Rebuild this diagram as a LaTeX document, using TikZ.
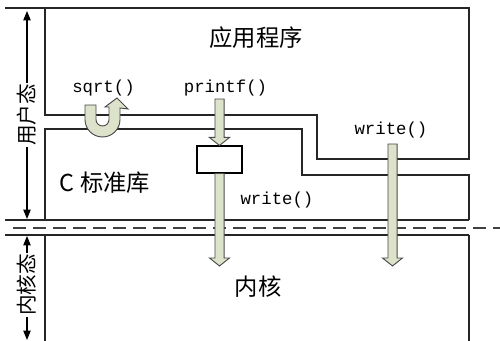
\documentclass[tikz,border=0pt]{standalone}
\usepackage{fontspec}
\newfontfamily\cjk{Noto Sans CJK SC}
\setmonofont{Liberation Mono}
\usetikzlibrary{arrows.meta, positioning, calc}

\definecolor{arrowfill}{HTML}{DDE2CB}
\definecolor{arrowedge}{HTML}{4A4A4A}

% 粗箭头（竖直向下）
\newcommand{\fatdown}[2]{%
  \draw[fat] let \p1=(#1), \p2=(#2) in
    (\x1-3.4pt,\y1) -- (\x1-3.4pt,\y2+6pt) -- (\x1-7.5pt,\y2+6pt) -- (\x1,\y2)
    -- (\x1+7.5pt,\y2+6pt) -- (\x1+3.4pt,\y2+6pt) -- (\x1+3.4pt,\y1) -- cycle;}

\begin{document}
\begin{tikzpicture}[
    x=0.75pt, y=0.75pt,
    layer/.style={line width=0.8pt, draw=black!85},
    zh/.style={font=\cjk\fontsize{17.5}{20}\selectfont},
    side/.style={font=\cjk\fontsize{15.5}{18}\selectfont, fill=white, inner sep=1pt, rotate=90},
    fn/.style={font=\ttfamily\fontsize{13}{15}\selectfont},
    fat/.style={fill=arrowfill, draw=arrowedge, line width=0.7pt},
    span/.style={line width=0.8pt, {Triangle[length=7pt,width=5.5pt]}-{Triangle[length=7pt,width=5.5pt]}}
]
    \useasboundingbox (0,0) rectangle (500,341);

    % 分层边框
    \draw[layer] (5,333) -- (469,333) -- (469,182) -- (317,182) -- (317,226) -- (45,226) -- (45,333);
    \draw[layer] (45,121) -- (45,212) -- (302,212) -- (302,166) -- (469,166) -- (469,121);
    \draw[layer] (5,121) -- (469,121);
    \draw[layer] (5,106) -- (469,106);
    \draw[layer] (45,106) -- (45,0);
    \draw[layer] (469,106) -- (469,0);
    \draw[line width=1.1pt, draw=black!75, dash pattern=on 10pt off 5pt] (13,113) -- (500,113);

    % 文字
    \node[zh] (app) at (256,303.5) {应用程序};
    \node[zh] (clib) at (105,158) {C 标准库};
    \node[zh] (kernel) at (258,54) {内核};
    \node[fn] (sqrtlbl) at (103.5,253) {sqrt()};
    \node[fn] (printflbl) at (225.5,253) {printf()};
    \node[fn] (writeA) at (277,141) {write()};
    \node[fn] (writeB) at (391,211) {write()};

    % 缓冲区
    \node[draw, line width=0.8pt, minimum width=33.75pt, minimum height=20.25pt, inner sep=0pt] (buf) at (219.5,181.5) {};

    % 端点
    \coordinate (pfin) at (219.5,242);
    \coordinate (kin) at (219.5,75);
    \coordinate (wrin) at (392.5,197);
    \coordinate (wrout) at (392.5,75);

    % 调用箭头
    \fatdown{pfin}{buf.north}
    \fatdown{buf.south}{kin}
    \fatdown{wrin}{wrout}
    \draw[fat] (85,236) -- (85,221.5) arc[start angle=180, end angle=360, radius=13.125pt]
        -- (120,233) -- (128,232) -- (117,243) -- (105,234) -- (109,234) -- (109,221.5)
        arc[start angle=0, end angle=-180, radius=4.875pt] -- (96,236) -- cycle;

    % 用户态 / 内核态
    \coordinate (uTop) at (27,330);
    \coordinate (uBot) at (27,122);
    \coordinate (kTop) at (27,105);
    \coordinate (kBot) at (27,1);
    \draw[span] (uTop) -- (uBot);
    \draw[span] (kTop) -- (kBot);
    \node[side] (user) at (27,226) {用户态};
    \node[side] (kmode) at (27,56) {内核态};
\end{tikzpicture}
\end{document}
